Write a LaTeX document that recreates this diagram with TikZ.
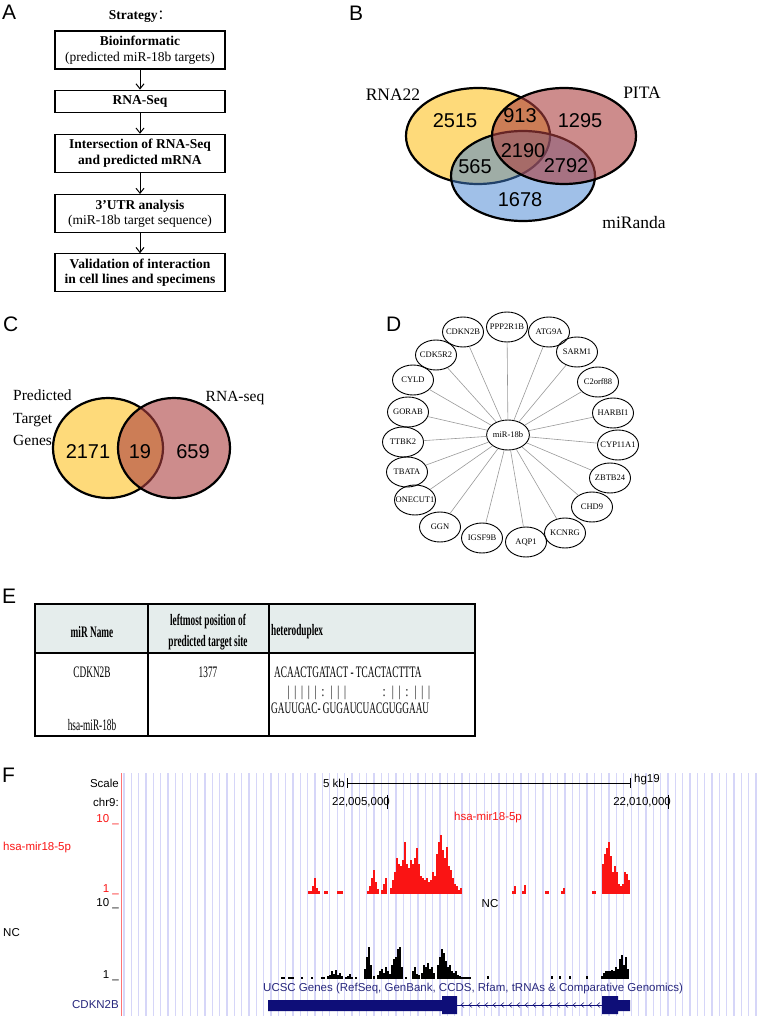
\documentclass[tikz,border=0pt]{standalone}
\usepackage{fontspec}
\setmainfont{Liberation Serif}
\newfontfamily\arialfont{Liberation Sans}
\newfontfamily\narrowfont[FakeStretch=0.58]{Liberation Serif}
\newfontfamily\cjkfont{Noto Sans CJK SC}
\usepackage{tikz}
\usetikzlibrary{positioning, arrows.meta, shapes.geometric}
\definecolor{vennyellow}{RGB}{254,218,122}
\definecolor{vennpink}{RGB}{172,63,63}
\definecolor{vennblue}{RGB}{66,130,210}
\definecolor{headgrey}{RGB}{229,237,236}
\definecolor{ucscstripe}{RGB}{214,214,248}
\definecolor{ucscred}{RGB}{250,20,20}
\definecolor{ucscnavy}{RGB}{14,14,120}
\definecolor{ucsctext}{RGB}{40,40,125}

\tikzset{
  panel/.style={font=\arialfont\fontsize{21}{21}\selectfont, anchor=base west, inner sep=0pt},
  stratbox/.style={draw, line width=1.2pt, minimum width=170pt, minimum height=38pt,
                   align=center, inner sep=1pt, font=\fontsize{13.5}{15.5}\selectfont},
  flow/.style={-{Straight Barb[length=5pt,width=8pt]}, line width=1pt},
  venn/.style={line width=2.2pt},
  vennnum/.style={font=\arialfont\fontsize{20}{20}\selectfont},
  vennlabel/.style={font=\fontsize{17.5}{20}\selectfont},
  gene/.style={ellipse, draw, line width=0.9pt, minimum width=41pt, minimum height=30pt,
               inner sep=0pt, font=\fontsize{8.5}{9}\selectfont},
  link/.style={draw=gray!80, line width=0.6pt},
  cell/.style={font=\narrowfont\fontsize{16}{20}\selectfont, align=center},
  headcell/.style={font=\narrowfont\bfseries\fontsize{16}{21}\selectfont, align=center},
  ucsc/.style={font=\arialfont\fontsize{11.5}{12}\selectfont, inner sep=0pt},
}

\begin{document}
\begin{tikzpicture}[x=1pt, y=-1pt]
  \useasboundingbox (0,0) rectangle (760,1016);

  % A: strategy
  \node[panel] (labA) at (2,20) {A};
  \node[font=\bfseries\fontsize{13.5}{15}\selectfont] (strat) at (140,17) {Strategy{\cjkfont\mdseries ：}};
  \node[stratbox] (bioinf) at (140,50) {\textbf{Bioinformatic}\\(predicted miR-18b targets)};
  \node[stratbox, minimum height=22pt, below=20pt of bioinf] (rnaseq) {\textbf{RNA-Seq}};
  \node[stratbox, below=21pt of rnaseq] (inters) {\textbf{Intersection of RNA-Seq}\\\textbf{and predicted mRNA}};
  \node[stratbox, below=21pt of inters] (utr) {\textbf{3'UTR analysis}\\(miR-18b target sequence)};
  \node[stratbox, below=20pt of utr] (valid) {\textbf{Validation of interaction}\\\textbf{in cell lines and specimens}};
  \draw[flow] (bioinf) -- (rnaseq);
  \draw[flow] (rnaseq) -- (inters);
  \draw[flow] (inters) -- (utr);
  \draw[flow] (utr) -- (valid);

  % B: three predictions
  \node[panel] (labB) at (349,21) {B};
  \filldraw[venn, fill=vennyellow] (478,136) ellipse [x radius=72, y radius=48];
  \filldraw[venn, fill=vennblue, fill opacity=0.5] (523,176) ellipse [x radius=72, y radius=45];
  \filldraw[venn, fill=vennpink, fill opacity=0.6] (564,136) ellipse [x radius=72, y radius=48];
  \node[vennlabel] (rna22) at (393,95) {RNA22};
  \node[vennlabel] (pita) at (642,93) {PITA};
  \node[vennlabel] (miranda) at (634,223) {miRanda};
  \node[vennnum] at (455,121) {2515};
  \node[vennnum] at (520,116) {913};
  \node[vennnum] at (580,121) {1295};
  \node[vennnum] at (523,151) {2190};
  \node[vennnum] at (566,166) {2792};
  \node[vennnum] at (475,167) {565};
  \node[vennnum] at (520,200) {1678};

  % C: predicted vs RNA-seq
  \node[panel] (labC) at (3,331) {C};
  \filldraw[venn, fill=vennyellow] (108,448) ellipse [x radius=55, y radius=50];
  \filldraw[venn, fill=vennpink, fill opacity=0.6] (174,448) ellipse [x radius=56, y radius=50];
  \node[vennlabel, font=\fontsize{15.5}{22.5}\selectfont, align=left, anchor=north west, inner sep=0pt]
    (predlab) at (13,390) {Predicted\\Target\\Genes};
  \node[vennlabel, font=\fontsize{15.5}{18}\selectfont] (seqlab) at (235,398) {RNA-seq};
  \node[vennnum] at (88,452) {2171};
  \node[vennnum] at (140,452) {19};
  \node[vennnum] at (193,452) {659};

  % D: network
  \node[panel] (labD) at (386,331) {D};
  \node[gene, minimum width=40pt] (mir) at (508,435) {miR-18b};
  \foreach \name/\x/\y in {CDKN2B/463/332, PPP2R1B/507/327, ATG9A/549/332, SARM1/577/352,
      C2orf88/598/382, HARBI1/613/413, CYP11A1/618/445, ZBTB24/610/478, CHD9/592/507,
      KCNRG/565/533, AQP1/526/542, IGSF9B/482/538, GGN/440/527, ONECUT1/415/500,
      TBATA/407/472, TTBK2/403/442, GORAB/408/412, CYLD/413/380, CDK5R2/436/355}{
    \node[gene] (\name) at (\x,\y) {\makebox[0pt]{\name}};
    \draw[link] (mir) -- (\name);
  }

  % E: heteroduplex table
  \node[panel] (labE) at (2,603) {E};
  \fill[headgrey] (35,604) rectangle (475,653);
  \draw[line width=1.1pt] (35,604) -- (35,736) (148,604) -- (148,736) (269,604) -- (269,736)
    (475,604) -- (475,736) (35,653) -- (475,653);
  \draw[line width=2.2pt] (34,604) -- (476,604) (34,736) -- (476,736);
  \node[headcell] (hname) at (92,632) {miR Name};
  \node[headcell] (hpos) at (208,632) {leftmost position of\\predicted target site};
  \node[headcell, anchor=west, inner sep=0pt] (hduplex) at (271,632) {heteroduplex};
  \node[cell] (target) at (92,672) {CDKN2B};
  \node[cell] (mirname) at (92,725) {hsa-miR-18b};
  \node[cell] (pos) at (208,672) {1377};
  \node[cell, anchor=west, inner sep=0pt] (seqtop) at (274,672) {ACAACTGATACT - TCACTACTTTA};
  \node[font=\fontsize{15}{15}\selectfont, text=black!70, anchor=west, inner sep=0pt] (pairsA) at (287,693) {| | | | | : | | |};
  \node[font=\fontsize{15}{15}\selectfont, text=black!70, anchor=west, inner sep=0pt] (pairsB) at (382,693) {: | | : | | |};
  \node[cell, anchor=west, inner sep=0pt] (seqbot) at (271,708) {GAUUGAC- GUGAUCUACGUGGAAU};

  % F: UCSC browser view
  \node[panel] (labF) at (2,782) {F};
  \foreach \i in {0,...,86}
    \draw[ucscstripe, line width=1.3pt] (124+7.35*\i,773) -- (124+7.35*\i,1016);
  \draw[red!55, line width=0.8pt] (121,773) -- (121,1016);
  \node[ucsc, anchor=east] (scale) at (119,783) {Scale};
  \node[ucsc, anchor=east] (chrom) at (119,802) {chr9:};
  \node[ucsc, anchor=east, text=ucscred] (redtop) at (119,820) {10 \_};
  \node[ucsc, anchor=west, text=ucscred] (redname) at (3,848) {hsa-mir18-5p};
  \node[ucsc, anchor=east, text=ucscred] (redbot) at (119,890) {1 \_};
  \node[ucsc, anchor=east] (nctop) at (119,904) {10 \_};
  \node[ucsc, anchor=west] (ncname) at (3,933) {NC};
  \node[ucsc, anchor=east] (ncbot) at (119,976) {1 \_};
  \node[ucsc, anchor=east, text=ucsctext] (genename) at (119,1005) {CDKN2B};
  % scale bar and positions
  \node[ucsc, anchor=east] (kb) at (345,783) {5 kb};
  \node[ucsc, anchor=west] (hg) at (634,780) {hg19};
  \draw[line width=0.8pt] (347,778) -- (347,788) (347,783) -- (630,783) (630,778) -- (630,788);
  \node[ucsc, anchor=east] (posA) at (390,802) {22,005,000};
  \node[ucsc, anchor=east] (posB) at (671,802) {22,010,000};
  \draw[line width=0.8pt] (387,795) -- (387,809) (668,795) -- (668,809);
  % red track
  \node[ucsc, text=ucscred] (redtrack) at (488,818) {hsa-mir18-5p};
  \foreach \x/\h in {309/3, 311/3, 313/8, 315/16, 317/6, 319/3, 325/3, 327/3, 338/3, 340/3, 342/3,
      368/3, 370/8, 372/16, 374/24, 376/12, 378/5, 382/4, 384/10, 386/16,
      391/6, 393/14, 395/22, 397/36, 399/30, 401/28, 403/34, 405/52, 407/30, 409/26, 411/34,
      413/30, 415/36, 417/46, 419/30, 421/18, 423/16, 425/14, 427/16, 429/12, 431/14, 433/22,
      435/18, 437/40, 439/52, 441/59, 443/44, 445/36, 447/47, 449/28, 451/24, 453/16, 455/10,
      457/8, 459/4, 461/6, 513/3, 515/8, 523/3, 525/9, 546/3, 548/3, 562/3, 564/6, 593/3, 595/3,
      603/30, 605/40, 607/46, 609/52, 611/38, 613/22, 615/28, 617/22, 619/10, 621/8, 623/10,
      625/22, 627/20, 629/14}
    \fill[ucscred] (\x-1,894) rectangle (\x+1,894-\h);
  % NC track
  \node[ucsc] (nctrack) at (490,904) {NC};
  \foreach \x/\h in {282/2, 284/2, 289/2, 291/2, 293/2, 302/2, 312/2, 322/2, 324/2,
      328/3, 330/4, 332/8, 334/5, 336/9, 338/4, 340/6, 342/3, 346/2, 348/3, 350/5, 352/2, 356/2,
      365/10, 367/22, 369/32, 371/14, 374/3, 378/4, 380/8, 382/10, 384/6, 386/12, 388/8, 390/5,
      392/14, 394/20, 396/22, 398/30, 400/32, 402/12, 406/2, 413/8, 415/12, 417/5, 419/4,
      422/6, 424/14, 426/12, 428/16, 430/10, 432/12, 434/6, 438/14, 440/22, 442/30, 444/26,
      446/18, 448/12, 450/14, 452/8, 454/6, 456/8, 458/4, 460/3, 462/2, 464/2, 466/2, 468/2,
      470/2, 488/3, 552/3, 560/3, 570/3, 587/3, 602/3, 604/6, 606/8, 608/8, 610/8, 612/9,
      614/8, 616/12, 618/10, 620/20, 622/24, 624/14, 626/22, 628/10}
    \fill[black] (\x-1,979) rectangle (\x+1,979-\h);
  % gene model
  \node[ucsc, anchor=west, text=ucsctext] (genetrack) at (263,989)
    {UCSC Genes (RefSeq, GenBank, CCDS, Rfam, tRNAs \& Comparative Genomics)};
  \fill[ucscnavy] (268,1000) rectangle (442,1011) (442,996) rectangle (457,1014)
    (602,996) rectangle (618,1014) (618,1000) rectangle (630,1011);
  \draw[ucscnavy, line width=0.8pt] (457,1005) -- (602,1005);
  \foreach \c in {462,470,...,598}
    \draw[ucscnavy, line width=0.5pt] (\c+2,1002.5) -- (\c-1,1005) -- (\c+2,1007.5);
\end{tikzpicture}
\end{document}
